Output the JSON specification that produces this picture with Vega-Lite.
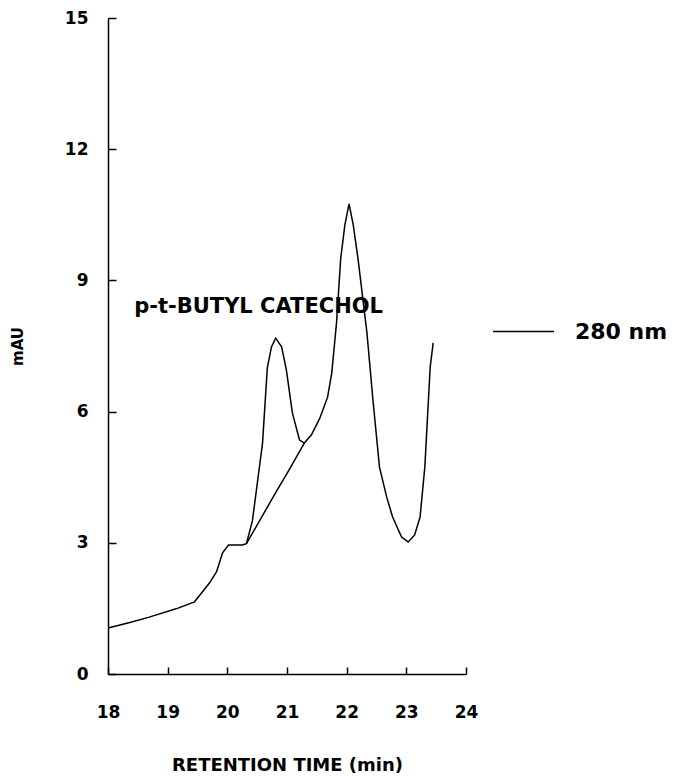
{
  "$schema": "https://vega.github.io/schema/vega-lite/v6.json",
  "width": 358,
  "height": 656,
  "autosize": {"type": "none"},
  "padding": {"left": 108, "top": 18, "right": 211, "bottom": 102},
  "background": "white",
  "config": {
    "view": {"stroke": null},
    "font": "DejaVu Sans",
    "axis": {
      "grid": false,
      "domainColor": "black",
      "domainWidth": 1.5,
      "tickColor": "black",
      "tickWidth": 1.5,
      "labelFont": "DejaVu Sans",
      "labelFontWeight": "bold",
      "labelColor": "black",
      "titleFont": "DejaVu Sans",
      "titleFontWeight": "bold",
      "titleColor": "black"
    }
  },
  "data": {
    "values": [
      {"t": 18.0, "mAU": 1.05, "seg": "trace", "wl": "280 nm"},
      {"t": 18.35, "mAU": 1.17, "seg": "trace", "wl": "280 nm"},
      {"t": 18.69, "mAU": 1.3, "seg": "trace", "wl": "280 nm"},
      {"t": 19.14, "mAU": 1.49, "seg": "trace", "wl": "280 nm"},
      {"t": 19.45, "mAU": 1.65, "seg": "trace", "wl": "280 nm"},
      {"t": 19.7, "mAU": 2.08, "seg": "trace", "wl": "280 nm"},
      {"t": 19.82, "mAU": 2.34, "seg": "trace", "wl": "280 nm"},
      {"t": 19.92, "mAU": 2.77, "seg": "trace", "wl": "280 nm"},
      {"t": 20.02, "mAU": 2.95, "seg": "trace", "wl": "280 nm"},
      {"t": 20.25, "mAU": 2.95, "seg": "trace", "wl": "280 nm"},
      {"t": 20.32, "mAU": 2.98, "seg": "trace", "wl": "280 nm"},
      {"t": 20.42, "mAU": 3.5, "seg": "trace", "wl": "280 nm"},
      {"t": 20.59, "mAU": 5.28, "seg": "trace", "wl": "280 nm"},
      {"t": 20.67, "mAU": 7.0, "seg": "trace", "wl": "280 nm"},
      {"t": 20.74, "mAU": 7.48, "seg": "trace", "wl": "280 nm"},
      {"t": 20.81, "mAU": 7.68, "seg": "trace", "wl": "280 nm"},
      {"t": 20.91, "mAU": 7.48, "seg": "trace", "wl": "280 nm"},
      {"t": 20.99, "mAU": 6.95, "seg": "trace", "wl": "280 nm"},
      {"t": 21.09, "mAU": 5.97, "seg": "trace", "wl": "280 nm"},
      {"t": 21.21, "mAU": 5.35, "seg": "trace", "wl": "280 nm"},
      {"t": 21.29, "mAU": 5.28, "seg": "trace", "wl": "280 nm"},
      {"t": 21.41, "mAU": 5.47, "seg": "trace", "wl": "280 nm"},
      {"t": 21.55, "mAU": 5.85, "seg": "trace", "wl": "280 nm"},
      {"t": 21.68, "mAU": 6.33, "seg": "trace", "wl": "280 nm"},
      {"t": 21.75, "mAU": 6.88, "seg": "trace", "wl": "280 nm"},
      {"t": 21.83, "mAU": 8.03, "seg": "trace", "wl": "280 nm"},
      {"t": 21.9, "mAU": 9.5, "seg": "trace", "wl": "280 nm"},
      {"t": 21.97, "mAU": 10.27, "seg": "trace", "wl": "280 nm"},
      {"t": 22.04, "mAU": 10.75, "seg": "trace", "wl": "280 nm"},
      {"t": 22.11, "mAU": 10.27, "seg": "trace", "wl": "280 nm"},
      {"t": 22.19, "mAU": 9.5, "seg": "trace", "wl": "280 nm"},
      {"t": 22.34, "mAU": 7.8, "seg": "trace", "wl": "280 nm"},
      {"t": 22.44, "mAU": 6.27, "seg": "trace", "wl": "280 nm"},
      {"t": 22.55, "mAU": 4.73, "seg": "trace", "wl": "280 nm"},
      {"t": 22.67, "mAU": 4.05, "seg": "trace", "wl": "280 nm"},
      {"t": 22.77, "mAU": 3.59, "seg": "trace", "wl": "280 nm"},
      {"t": 22.92, "mAU": 3.13, "seg": "trace", "wl": "280 nm"},
      {"t": 23.03, "mAU": 3.02, "seg": "trace", "wl": "280 nm"},
      {"t": 23.14, "mAU": 3.18, "seg": "trace", "wl": "280 nm"},
      {"t": 23.23, "mAU": 3.59, "seg": "trace", "wl": "280 nm"},
      {"t": 23.31, "mAU": 4.73, "seg": "trace", "wl": "280 nm"},
      {"t": 23.4, "mAU": 7.02, "seg": "trace", "wl": "280 nm"},
      {"t": 23.45, "mAU": 7.57, "seg": "trace", "wl": "280 nm"},
      {"t": 20.32, "mAU": 2.98, "seg": "baseline", "wl": "280 nm"},
      {"t": 20.82, "mAU": 4.17, "seg": "baseline", "wl": "280 nm"},
      {"t": 21.04, "mAU": 4.68, "seg": "baseline", "wl": "280 nm"},
      {"t": 21.29, "mAU": 5.28, "seg": "baseline", "wl": "280 nm"}
    ]
  },
  "layer": [
    {
      "mark": {"type": "line", "strokeWidth": 1.5, "interpolate": "linear"},
      "encoding": {
        "x": {
          "field": "t",
          "type": "quantitative",
          "scale": {"domain": [18, 24], "nice": false},
          "axis": {
            "values": [18, 19, 20, 21, 22, 23, 24],
            "format": "d",
            "labelOverlap": false,
            "labelFlush": false,
            "tickSize": -7,
            "labelFontSize": 17,
            "labelPadding": 37,
            "title": "RETENTION TIME (min)",
            "titleFontSize": 18,
            "titlePadding": 36
          }
        },
        "y": {
          "field": "mAU",
          "type": "quantitative",
          "scale": {"domain": [0, 15], "nice": false},
          "axis": {
            "values": [0, 3, 6, 9, 12, 15],
            "format": "d",
            "labelOverlap": false,
            "labelFlush": false,
            "tickSize": -8,
            "labelFontSize": 17,
            "labelPadding": 28,
            "title": "mAU",
            "titleFontSize": 15,
            "titlePadding": 39
          }
        },
        "detail": {"field": "seg"},
        "color": {
          "field": "wl",
          "type": "nominal",
          "scale": {"range": ["black"]},
          "legend": {
            "title": null,
            "orient": "none",
            "legendX": 384,
            "legendY": 282,
            "symbolType": "stroke",
            "symbolSize": 3721,
            "symbolStrokeWidth": 1.5,
            "labelFont": "DejaVu Sans",
            "labelFontWeight": "bold",
            "labelFontSize": 22,
            "labelColor": "black",
            "labelOffset": 20
          }
        }
      }
    },
    {
      "data": {"values": [{"t": 18.44, "mAU": 8.26, "label": "p-t-BUTYL CATECHOL"}]},
      "mark": {"type": "text", "align": "left", "baseline": "alphabetic", "font": "DejaVu Sans", "fontWeight": "bold", "fontSize": 21, "color": "black"},
      "encoding": {
        "x": {"field": "t", "type": "quantitative"},
        "y": {"field": "mAU", "type": "quantitative"},
        "text": {"field": "label"}
      }
    }
  ]
}
